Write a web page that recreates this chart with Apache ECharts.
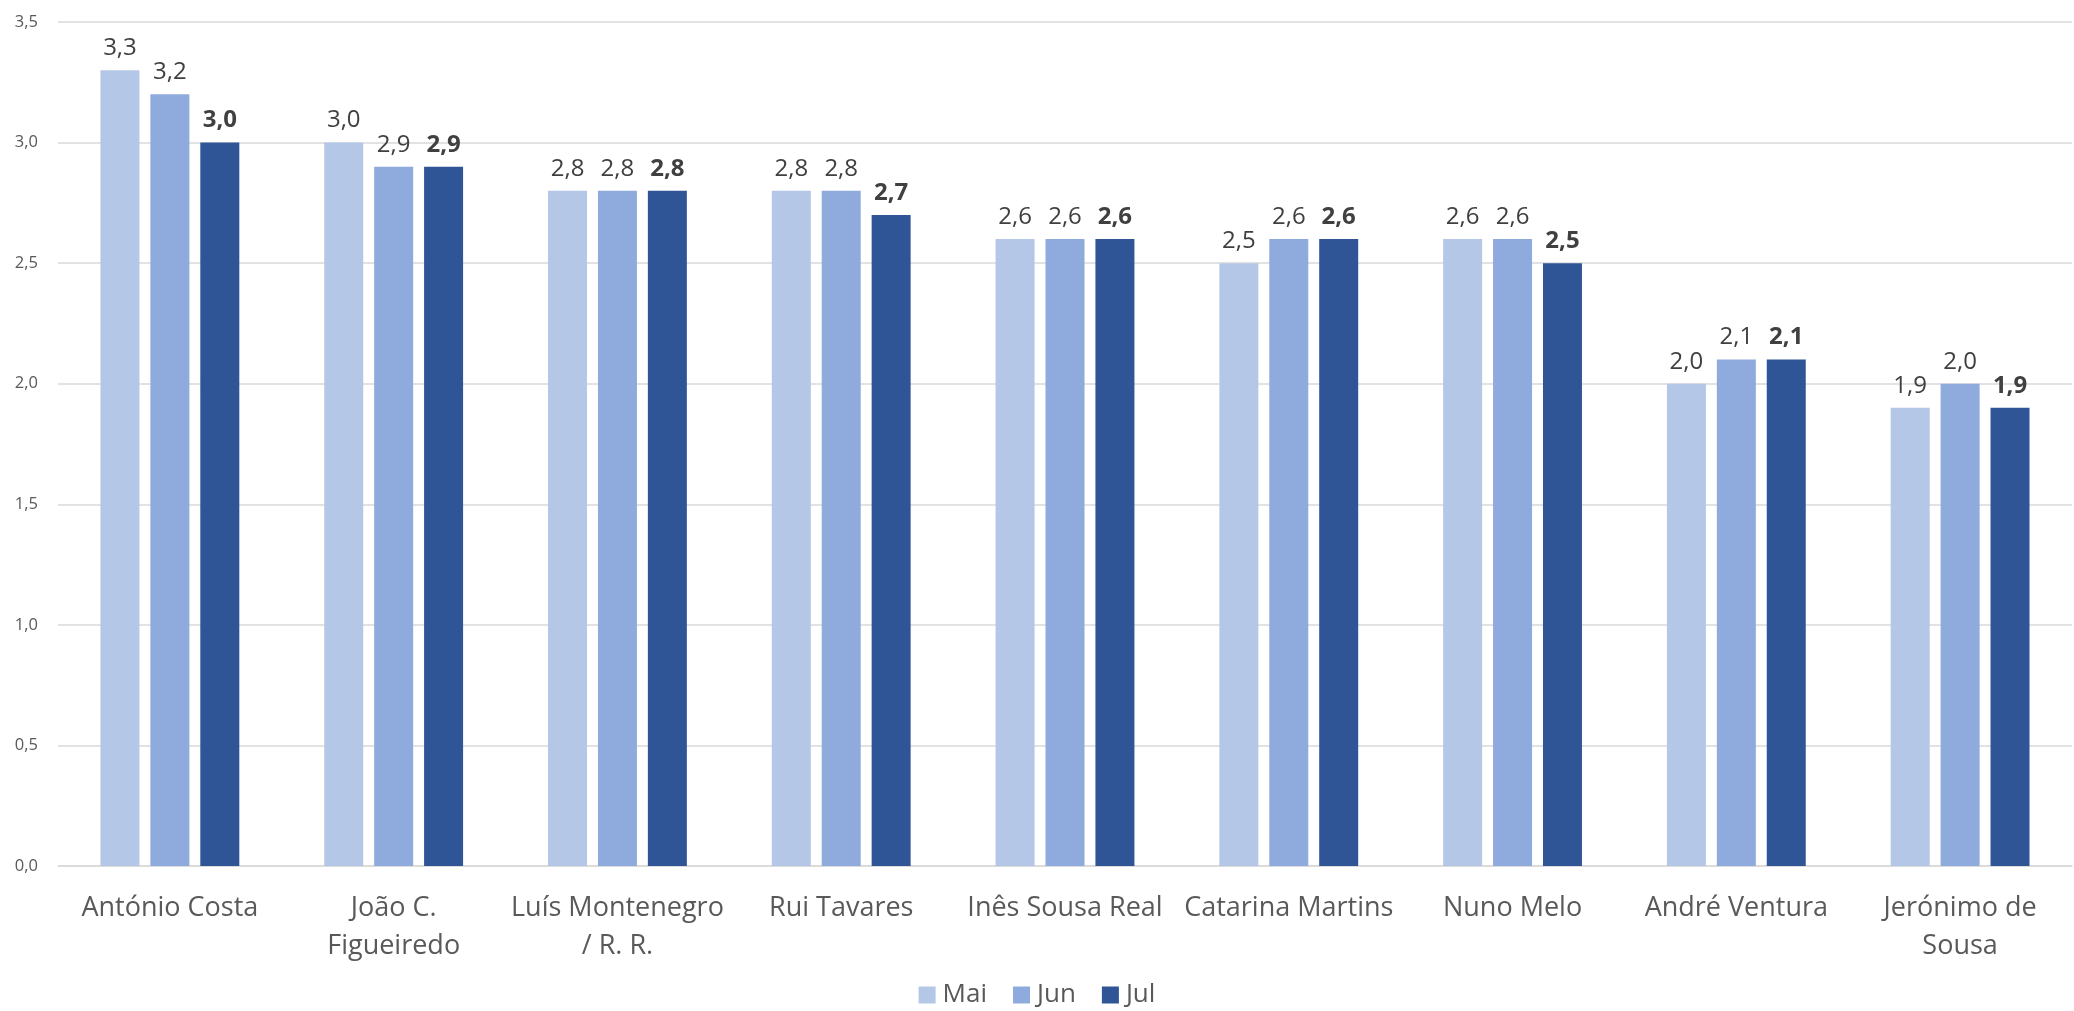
<!DOCTYPE html>
<html><head><meta charset="utf-8">
<script src="https://cdn.jsdelivr.net/npm/echarts@6/dist/echarts.min.js"></script>
<style>html,body{margin:0;padding:0;background:#fff}#c{width:2074px;height:1011px}</style>
</head><body><div id="c"></div>
<script>
const categories = ["António Costa","João C.\nFigueiredo","Luís Montenegro\n/ R. R.","Rui Tavares","Inês Sousa Real","Catarina Martins","Nuno Melo","André Ventura","Jerónimo de\nSousa"];
const seriesNames = ["Mai","Jun","Jul"];
const mai = [3.3,3.0,2.8,2.8,2.6,2.5,2.6,2.0,1.9];
const jun = [3.2,2.9,2.8,2.8,2.6,2.6,2.6,2.1,2.0];
const jul = [3.0,2.9,2.8,2.7,2.6,2.6,2.5,2.1,1.9];
const colors = ["#B4C7E7","#8FAADC","#2F5597"];
const fmt = p => p.value.toFixed(1).replace('.', ',');
const font = '"Open Sans", "Noto Sans", sans-serif';
function mk(name, data, i, bold){
  return {name, type:'bar', data, barWidth:39, barGap:'28%',
    itemStyle:{color:colors[i]},
    label:{show:true, position:'top', distance:10, formatter:fmt, fontFamily:font, fontSize:24,
      color:'#404040', fontWeight: bold?'bold':'normal'}};
}
const chart = echarts.init(document.getElementById('c'));
chart.setOption({
  animation:false,
  textStyle:{fontFamily:font},
  grid:{left:58, right:2, top:22, bottom:145, containLabel:false},
  legend:{bottom:-4, left:'center', itemWidth:17, itemHeight:17, itemGap:26, icon:'rect',
    textStyle:{fontFamily:font, fontSize:26, lineHeight:30, color:'#595959', padding:[0,0,0,2]}},
  xAxis:{type:'category', data:categories,
    axisLine:{lineStyle:{color:'#D9D9D9', width:1.5}}, axisTick:{show:false},
    axisLabel:{fontFamily:font, fontSize:27, color:'#595959', margin:23, lineHeight:38, interval:0}},
  yAxis:{type:'value', min:0, max:3.5, interval:0.5,
    axisLine:{show:false}, axisTick:{show:false},
    splitLine:{lineStyle:{color:'#D9D9D9', width:1.5}},
    axisLabel:{fontFamily:font, fontSize:16.5, color:'#595959', margin:20, formatter:v=>v.toFixed(1).replace('.',',')}},
  series:[mk(seriesNames[0],mai,0,false), mk(seriesNames[1],jun,1,false), mk(seriesNames[2],jul,2,true)]
});
</script></body></html>
